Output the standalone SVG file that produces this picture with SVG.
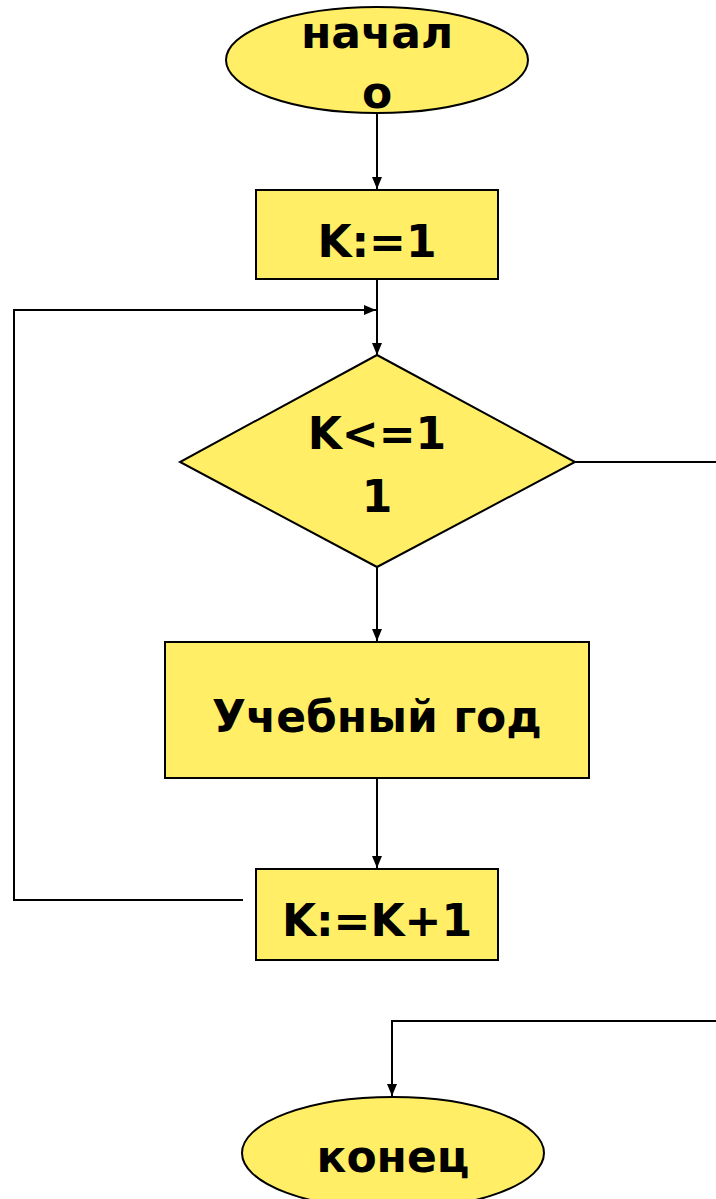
<svg xmlns="http://www.w3.org/2000/svg" width="716" height="1199" viewBox="0 0 716 1199">
<style>
.n{fill:#FFEE66;stroke:#000;stroke-width:2}
.t{font-family:"DejaVu Sans",sans-serif;font-weight:bold;font-size:44px;text-anchor:middle;fill:#000}
.c{fill:none;stroke:#000;stroke-width:2}
</style>
<defs>
<marker id="a" viewBox="0 0 12 10" refX="12" refY="5" markerWidth="12" markerHeight="10" markerUnits="userSpaceOnUse" orient="auto"><path d="M0,0 L12,5 L0,10 z" fill="#000"/></marker>
</defs>
<rect width="716" height="1199" fill="#fff"/>
<g id="connectors">
<path class="c" d="M377,113 V189" marker-end="url(#a)"/>
<path class="c" d="M377,279 V355" marker-end="url(#a)"/>
<path class="c" d="M243,900 H14 V310 H376" marker-end="url(#a)"/>
<path class="c" d="M575,462 H716"/>
<path class="c" d="M377,567 V641" marker-end="url(#a)"/>
<path class="c" d="M377,778 V868" marker-end="url(#a)"/>
<path class="c" d="M716,1021 H392 V1096" marker-end="url(#a)"/>
</g>
<g id="start">
<ellipse class="n" cx="377" cy="60" rx="151" ry="53"/>
<text class="t" x="377" y="48">начал</text>
<text class="t" x="377" y="108">о</text>
</g>
<g id="init">
<rect class="n" x="256" y="190" width="242" height="89"/>
<text class="t" x="377" y="257">K:=1</text>
</g>
<g id="cond">
<polygon class="n" points="377,355 575,462 377,567 180,462"/>
<text class="t" x="377" y="449">K&lt;=1</text>
<text class="t" x="377" y="512">1</text>
</g>
<g id="body">
<rect class="n" x="165" y="642" width="424" height="136"/>
<text class="t" x="377" y="732">Учебный год</text>
</g>
<g id="inc">
<rect class="n" x="256" y="869" width="242" height="91"/>
<text class="t" x="377" y="936">K:=K+1</text>
</g>
<g id="end">
<ellipse class="n" cx="393" cy="1153" rx="151" ry="56"/>
<text class="t" x="393" y="1172">конец</text>
</g>
</svg>
